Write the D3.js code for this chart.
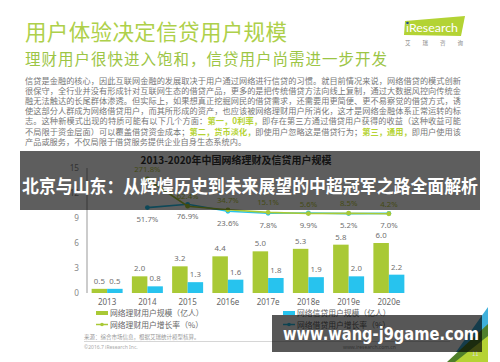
<!DOCTYPE html>
<html>
<head>
<meta charset="utf-8">
<script src="https://cdn.jsdelivr.net/npm/d3@7"></script>
<style>
    html, body { margin: 0; padding: 0; background: #fff; }
    svg { display: block; font-family: "Noto Sans CJK SC", "Noto Sans", sans-serif; }
</style>
</head>
<body>
<div id="slide"></div>
<script>
var years = ['2013', '2014', '2015', '2016e', '2017e', '2018e', '2019e', '2020e'];
var wealthUsers = [0.5, 2.0, 3.2, 4.4, 5.0, 5.3, 5.8, 6.0];
var creditUsers = [0.5, 0.8, 1.3, 1.6, 1.8, 1.9, 2.0, 2.2];
var wealthGrowth = [null, 271.8, 62.4, 34.7, 15.1, 5.6, 8.5, 4.2];
var creditGrowth = [null, 51.7, 76.9, 23.6, 7.8, 9.9, 5.2, 7.0];
var yTicks = [0, 3, 6, 9, 12, 15];

var paragraph = [
    [['信贷是金融的核心，因此互联网金融的发展取决于用户通过网络进行信贷的习惯。就目前情况来说，网络借贷的模式创新', 0]],
    [['很保守，全行业并没有形成针对互联网生态的借贷产品，更多的是把传统借贷方法向线上复制，通过大数据风控向传统金', 0]],
    [['融无法触达的长尾群体渗透。但实际上，如果想真正挖掘网民的借贷需求，还需要用更简便、更不易察觉的借贷方式，诱', 0]],
    [['使这部分人群成为网络借贷用户，而其所形成的资产，也应该被网络理财用户所消化，这才是网络金融体系正常运转的标', 0]],
    [['志。这种新模式出现的特质可能有以下几个方面：', 0], ['第一，0利率，', 1], ['即存在第三方通过借贷用户获得的收益（这种收益可能', 0]],
    [['不局限于资金层面）可以覆盖借贷资金成本；', 0], ['第二，货币淡化，', 1], ['即使用户忽略这是借贷行为；', 0], ['第三，通用，', 1], ['即用户使用该', 0]],
    [['产品或服务，不仅局限于借贷服务提供企业自身生态系统内。', 0]]
];

var green = '#a9c935',
    cyan = '#27c3ee',
    gray = '#707070';

var width = 500,
    height = 362;

var svg = d3.select('#slide').append('svg')
    .attr('width', width)
    .attr('height', height);

// slide heading
svg.append('text')
    .attr('x', 25).attr('y', 40)
    .attr('font-size', 21.5)
    .attr('fill', '#aed04a')
    .attr('textLength', 262).attr('lengthAdjust', 'spacing')
    .text('用户体验决定信贷用户规模');

svg.append('text')
    .attr('x', 25).attr('y', 65)
    .attr('font-size', 15.5)
    .attr('fill', '#9cc545')
    .attr('textLength', 362).attr('lengthAdjust', 'spacing')
    .text('理财用户很快进入饱和，信贷用户尚需进一步开发');

// iResearch logo
svg.append('polygon')
    .attr('points', '405,21 465,16 461,36 404,35')
    .attr('fill', '#b3d334');
svg.append('text')
    .attr('x', 406).attr('y', 32)
    .attr('font-size', 10.5)
    .attr('font-family', 'Lato, sans-serif')
    .attr('fill', '#fff')
    .attr('textLength', 52).attr('lengthAdjust', 'spacingAndGlyphs')
    .text('iResearch');
svg.append('circle').attr('cx', 407.5).attr('cy', 23).attr('r', 1.3).attr('fill', '#1f4e8c');
svg.append('text')
    .attr('x', 405).attr('y', 45)
    .attr('font-size', 5.5)
    .attr('fill', '#888')
    .attr('textLength', 58).attr('lengthAdjust', 'spacing')
    .text('艾瑞咨询');

// body text
paragraph.forEach(function(line, i) {
    var t = svg.append('text')
        .attr('x', 25)
        .attr('y', 84 + i * 10.1)
        .attr('font-size', 8.2)
        .attr('fill', '#777');
    if (i < 6) {
        t.attr('textLength', 436).attr('lengthAdjust', 'spacing');
    }
    line.forEach(function(part) {
        t.append('tspan')
            .attr('fill', part[1] ? '#b5d334' : '#777')
            .attr('font-weight', part[1] ? 'bold' : null)
            .text(part[0]);
    });
});

// chart
var x = d3.scaleBand()
    .domain(years)
    .range([87, 409])
    .paddingInner(0.23)
    .paddingOuter(0.115);

var sub = d3.scaleBand()
    .domain(['wealth', 'credit'])
    .range([0, x.bandwidth()]);

var y = d3.scaleLinear().domain([0, 15]).range([293, 168]);
var y2 = d3.scaleLinear().domain([0, 300]).range([214.3, 175.3]);

var chart = svg.append('g');

chart.append('text')
    .attr('x', 236).attr('y', 164)
    .attr('text-anchor', 'middle')
    .attr('font-size', 10)
    .attr('font-weight', 'bold')
    .attr('fill', '#333')
    .text('2013-2020年中国网络理财及信贷用户规模');

var yAxis = chart.append('g')
    .attr('transform', 'translate(87,0)')
    .call(d3.axisLeft(y).tickValues(yTicks).tickSize(0).tickPadding(8));
yAxis.select('.domain').attr('stroke', '#999').attr('d', 'M0,' + y(15) + 'V' + y(0));
yAxis.selectAll('text')
    .attr('font-size', 8.2)
    .attr('font-family', '"Noto Sans", sans-serif')
    .attr('fill', '#888');

var xAxis = chart.append('g')
    .attr('transform', 'translate(0,' + y(0) + ')')
    .call(d3.axisBottom(x).tickSize(0).tickPadding(6));
xAxis.select('.domain').remove();
xAxis.selectAll('text')
    .attr('font-size', 8)
    .attr('font-family', '"Noto Sans", sans-serif')
    .attr('fill', '#666');

var groups = chart.selectAll('g.year')
    .data(years)
    .enter().append('g')
    .attr('class', 'year')
    .attr('transform', function(d) { return 'translate(' + x(d) + ',0)'; });

groups.append('rect')
    .attr('x', sub('wealth'))
    .attr('y', function(d, i) { return y(wealthUsers[i]); })
    .attr('width', sub.bandwidth())
    .attr('height', function(d, i) { return y(0) - y(wealthUsers[i]); })
    .attr('fill', green);

groups.append('rect')
    .attr('x', sub('credit'))
    .attr('y', function(d, i) { return y(creditUsers[i]); })
    .attr('width', sub.bandwidth())
    .attr('height', function(d, i) { return y(0) - y(creditUsers[i]); })
    .attr('fill', cyan);

groups.append('text')
    .attr('x', sub('wealth') + sub.bandwidth() / 2)
    .attr('y', function(d, i) { return y(wealthUsers[i]) - 5; })
    .attr('text-anchor', 'middle')
    .attr('font-size', 7.8)
    .attr('font-family', '"Noto Sans", sans-serif')
    .attr('fill', gray)
    .text(function(d, i) { return wealthUsers[i].toFixed(1); });

groups.append('text')
    .attr('x', sub('credit') + sub.bandwidth() / 2)
    .attr('y', function(d, i) { return y(creditUsers[i]) - 5; })
    .attr('text-anchor', 'middle')
    .attr('font-size', 7.8)
    .attr('font-family', '"Noto Sans", sans-serif')
    .attr('fill', gray)
    .text(function(d, i) { return creditUsers[i].toFixed(1); });

// growth rate lines
var cx = function(i) { return x(years[i]) + x.bandwidth() / 2; };

function growthLine(values, color, labelDy, labelColor) {
    var pts = values.map(function(v, i) { return [i, v]; })
        .filter(function(p) { return p[1] !== null; });
    var line = d3.line()
        .x(function(p) { return cx(p[0]); })
        .y(function(p) { return y2(p[1]); });
    chart.append('path')
        .datum(pts)
        .attr('d', line)
        .attr('fill', 'none')
        .attr('stroke', color)
        .attr('stroke-width', 1.6);
    chart.selectAll(null)
        .data(pts)
        .enter().append('circle')
        .attr('cx', function(p) { return cx(p[0]); })
        .attr('cy', function(p) { return y2(p[1]); })
        .attr('r', 2.4)
        .attr('fill', color);
    chart.selectAll(null)
        .data(pts)
        .enter().append('text')
        .attr('x', function(p) { return cx(p[0]); })
        .attr('y', function(p) { return y2(p[1]) + labelDy; })
        .attr('text-anchor', 'middle')
        .attr('font-size', 7.8)
        .attr('font-family', '"Noto Sans", sans-serif')
        .attr('fill', labelColor)
        .text(function(p) { return p[1].toFixed(1) + '%'; });
}

growthLine(creditGrowth, cyan, 14.5, gray);
growthLine(wealthGrowth, green, -7, '#b9c93a');

// legend
var legend = [
    { label: '网络理财用户规模（亿人）', color: green, type: 'bar', x: 96, y: 313 },
    { label: '网络信贷用户规模（亿人）', color: cyan, type: 'bar', x: 283, y: 313 },
    { label: '网络理财用户增长率（%）', color: green, type: 'line', x: 96, y: 324.5 },
    { label: '网络借贷用户增长率（%）', color: cyan, type: 'line', x: 283, y: 324.5 }
];

var lg = chart.selectAll('g.legend')
    .data(legend)
    .enter().append('g')
    .attr('class', 'legend')
    .attr('transform', function(d) { return 'translate(' + d.x + ',' + d.y + ')'; });

lg.filter(function(d) { return d.type === 'bar'; })
    .append('rect')
    .attr('x', 0).attr('y', -2)
    .attr('width', 12).attr('height', 4)
    .attr('fill', function(d) { return d.color; });

lg.filter(function(d) { return d.type === 'line'; })
    .append('line')
    .attr('x1', 0).attr('x2', 12)
    .attr('stroke', function(d) { return d.color; })
    .attr('stroke-width', 1.5);

lg.filter(function(d) { return d.type === 'line'; })
    .append('circle')
    .attr('cx', 6).attr('r', 1.8)
    .attr('fill', function(d) { return d.color; });

lg.append('text')
    .attr('x', 14).attr('y', 3)
    .attr('font-size', 7.8)
    .attr('fill', '#666')
    .text(function(d) { return d.label; });

// footer
svg.append('text')
    .attr('x', 84).attr('y', 339)
    .attr('font-size', 5.5)
    .attr('fill', '#999')
    .text('来源：综合市场信息，根据艾瑞统计模型核算。');
svg.append('line')
    .attr('x1', 84).attr('x2', 450)
    .attr('y1', 341.5).attr('y2', 341.5)
    .attr('stroke', '#bbb').attr('stroke-width', 0.6);
svg.append('text')
    .attr('x', 84).attr('y', 349)
    .attr('font-size', 5)
    .attr('fill', '#aaa')
    .attr('font-family', '"Noto Sans", sans-serif')
    .text('©2016.7 iResearch Inc.');
svg.append('text')
    .attr('x', 343).attr('y', 349)
    .attr('font-size', 5)
    .attr('fill', '#999')
    .attr('font-family', '"Noto Sans", sans-serif')
    .text('www.iresearch.com.cn');

// corner decoration
svg.append('polygon').attr('points', '488,307 488,352 456,352').attr('fill', '#3fb0db');
svg.append('polygon').attr('points', '488,324 488,362 447,362').attr('fill', '#4f7f2a');
svg.append('polygon').attr('points', '488,336 488,362 455,362').attr('fill', '#b5d334');
svg.append('text')
    .attr('x', 472).attr('y', 356)
    .attr('font-size', 6)
    .attr('fill', '#ddd')
    .text('11');

// overlays
svg.append('rect')
    .attr('x', 20).attr('y', 151)
    .attr('width', 460).attr('height', 59)
    .attr('fill', 'rgba(0,0,0,0.63)');
svg.append('text')
    .attr('x', 22).attr('y', 193)
    .attr('font-size', 18.5)
    .attr('font-weight', 'bold')
    .attr('fill', '#fff')
    .attr('textLength', 456).attr('lengthAdjust', 'spacingAndGlyphs')
    .text('北京与山东：从辉煌历史到未来展望的中超冠军之路全面解析');

svg.append('rect')
    .attr('x', 272).attr('y', 315)
    .attr('width', 210).attr('height', 37)
    .attr('fill', 'rgba(0,0,0,0.66)');
svg.append('text')
    .attr('x', 283).attr('y', 340)
    .attr('font-size', 18)
    .attr('font-weight', 'bold')
    .attr('font-family', '"DejaVu Sans", sans-serif')
    .attr('fill', '#fff')
    .attr('textLength', 196).attr('lengthAdjust', 'spacingAndGlyphs')
    .text('www.wang-j9game.com');
</script>
</body>
</html>
